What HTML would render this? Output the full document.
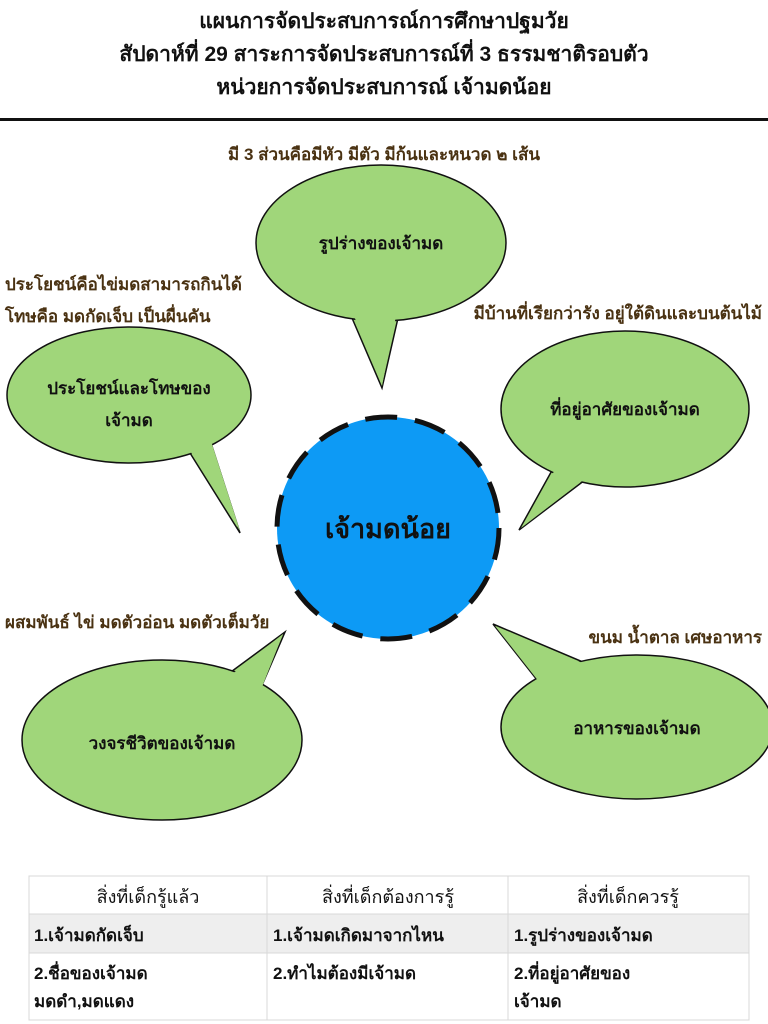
<!DOCTYPE html>
<html><head><meta charset="utf-8"><style>
html,body{margin:0;padding:0;background:#fff;width:768px;height:1024px;overflow:hidden}
svg{display:block}
.t{font-family:"Liberation Sans","Noto Sans CJK SC","WenQuanYi Zen Hei",sans-serif}
</style></head><body>
<svg width="768" height="1024" viewBox="0 0 768 1024" class="t">
<g font-weight="bold" font-size="21" text-anchor="middle" fill="#111">
<text x="384" y="28">แผนการจัดประสบการณ์การศึกษาปฐมวัย</text>
<text x="384" y="61">สัปดาห์ที่ 29 สาระการจัดประสบการณ์ที่ 3 ธรรมชาติรอบตัว</text>
<text x="384" y="94">หน่วยการจัดประสบการณ์ เจ้ามดน้อย</text>
</g>
<rect x="0" y="118" width="768" height="3" fill="#111"/>
<g font-size="17" fill="#4a3212" font-weight="bold">
<text x="384" y="160" text-anchor="middle">มี 3 ส่วนคือมีหัว มีตัว มีก้นและหนวด ๒ เส้น</text>
<text x="5" y="290">ประโยชน์คือไข่มดสามารถกินได้</text>
<text x="5" y="322">โทษคือ มดกัดเจ็บ เป็นผื่นคัน</text>
<text x="762" y="319" text-anchor="end">มีบ้านที่เรียกว่ารัง อยู่ใต้ดินและบนต้นไม้</text>
<text x="5" y="628">ผสมพันธ์ ไข่ มดตัวอ่อน มดตัวเต็มวัย</text>
<text x="762" y="643" text-anchor="end">ขนม น้ำตาล เศษอาหาร</text>
</g>
<g fill="#a0d67a" stroke="#111" stroke-width="1.5">
<path d="M352,318 L382,388 L398,318 Z"/>
<ellipse cx="381" cy="243" rx="125" ry="78"/>
<path d="M185,445 L240,533 L210,440 Z"/>
<ellipse cx="129" cy="395" rx="122" ry="68"/>
<path d="M555,465 L519,530 L585,480 Z"/>
<ellipse cx="625" cy="409" rx="124" ry="78"/>
<path d="M220,680 L285,632 L260,690 Z"/>
<ellipse cx="162" cy="740" rx="140" ry="80"/>
<path d="M545,690 L493,624 L590,665 Z"/>
<ellipse cx="637" cy="727" rx="136" ry="72"/>
</g>
<g fill="#a0d67a">
<path d="M354,316 L382,386 L396,316 Z"/>
<path d="M187,446 L240,531 L210,438 Z"/>
<path d="M556,468 L521,528 L586,478 Z"/>
<path d="M222,682 L283,634 L260,692 Z"/>
<path d="M547,692 L495,626 L592,667 Z"/>
</g>
<g font-size="17" font-weight="bold" fill="#111" text-anchor="middle">
<text x="381" y="249">รูปร่างของเจ้ามด</text>
<text x="129" y="394">ประโยชน์และโทษของ</text>
<text x="129" y="426">เจ้ามด</text>
<text x="625" y="415">ที่อยู่อาศัยของเจ้ามด</text>
<text x="162" y="749">วงจรชีวิตของเจ้ามด</text>
<text x="637" y="734">อาหารของเจ้ามด</text>
</g>
<circle cx="388" cy="528" r="111" fill="#0d9af5" stroke="#111" stroke-width="5" stroke-dasharray="32 18"/>
<text x="388" y="538" font-size="27" font-weight="bold" text-anchor="middle" fill="#111">เจ้ามดน้อย</text>
<rect x="29" y="914" width="720" height="39" fill="#eeeeee"/>
<g stroke="#d8d8d8" stroke-width="1" fill="none">
<rect x="29" y="876" width="720" height="144"/>
<line x1="29" y1="914" x2="749" y2="914"/>
<line x1="29" y1="953" x2="749" y2="953"/>
<line x1="267" y1="876" x2="267" y2="1020"/>
<line x1="508" y1="876" x2="508" y2="1020"/>
</g>
<g font-size="17" fill="#111" font-weight="bold">
<g text-anchor="middle" font-weight="normal" font-size="18">
<text x="148" y="903">สิ่งที่เด็กรู้แล้ว</text>
<text x="388" y="903">สิ่งที่เด็กต้องการรู้</text>
<text x="628" y="903">สิ่งที่เด็กควรรู้</text>
</g>
<text x="34" y="941">1.เจ้ามดกัดเจ็บ</text>
<text x="273" y="941">1.เจ้ามดเกิดมาจากไหน</text>
<text x="514" y="941">1.รูปร่างของเจ้ามด</text>
<text x="34" y="979">2.ชื่อของเจ้ามด</text>
<text x="34" y="1007">มดดำ,มดแดง</text>
<text x="273" y="979">2.ทำไมต้องมีเจ้ามด</text>
<text x="514" y="979">2.ที่อยู่อาศัยของ</text>
<text x="514" y="1007">เจ้ามด</text>
</g>
</svg>
</body></html>
